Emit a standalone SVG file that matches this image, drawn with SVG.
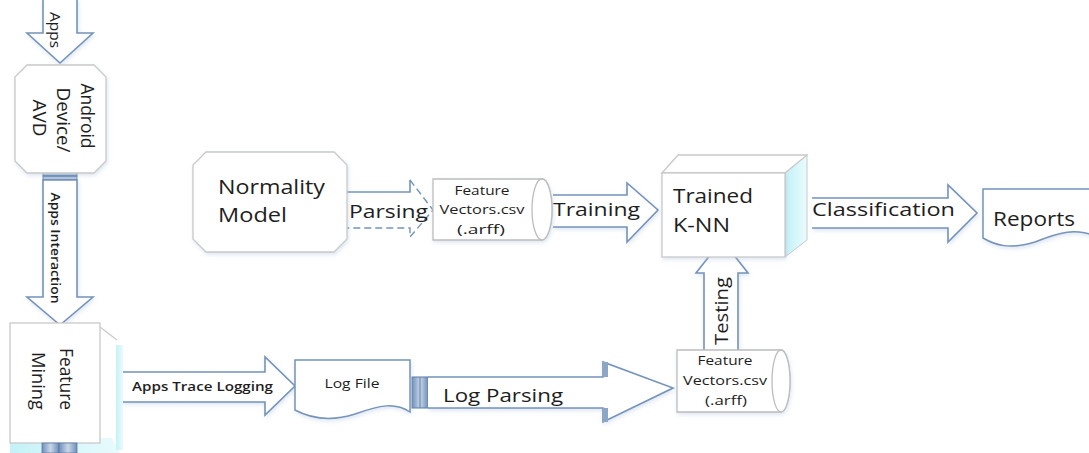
<svg xmlns="http://www.w3.org/2000/svg" width="1089" height="453" viewBox="0 0 1089 453">
<defs>
<style>
.bg{fill:#ffffff}
.arrow{fill:#ffffff;stroke:#7493bb;stroke-width:1.6;stroke-linejoin:miter}
.dash{fill:none;stroke:#7493bb;stroke-width:1.4;stroke-dasharray:7 4}
.box{fill:#ffffff;stroke:#c9c9c9;stroke-width:1.3}
.doc{fill:#ffffff;stroke:#7493bb;stroke-width:1.5}
.cyl{fill:#ffffff;stroke:#bdbdbd;stroke-width:1.3}
.side{fill:url(#cyan);stroke:#c9c9c9;stroke-width:1}
.bar{fill:url(#barg);stroke:#5b7aa5;stroke-width:1}
text{font-family:"Open Sans","Noto Sans","Liberation Sans",sans-serif;fill:#1e1e1e;font-weight:500}
.big{font-size:20px}
.mid{font-size:19px}
.sm{font-size:13px}
.lbl{font-size:13px;font-weight:600}
</style>
<linearGradient id="cyan" x1="0" y1="0" x2="1" y2="0">
<stop offset="0" stop-color="#c4f2f7"/>
<stop offset="1" stop-color="#e9fbfd"/>
</linearGradient>
<linearGradient id="barg" x1="0" y1="0" x2="1" y2="0">
<stop offset="0" stop-color="#6f8fba"/>
<stop offset="0.5" stop-color="#c9d7e8"/>
<stop offset="1" stop-color="#6f8fba"/>
</linearGradient>
<linearGradient id="barh" x1="0" y1="0" x2="0" y2="1">
<stop offset="0" stop-color="#6f8fba"/>
<stop offset="0.5" stop-color="#c9d7e8"/>
<stop offset="1" stop-color="#6f8fba"/>
</linearGradient>
<filter id="sh" x="-10%" y="-10%" width="130%" height="130%">
<feDropShadow dx="1" dy="2" stdDeviation="2" flood-color="#9fb8d8" flood-opacity="0.35"/>
</filter>
</defs>
<rect class="bg" x="0" y="0" width="1089" height="453"/>

<g id="connectors">
<g id="apps-arrow">
<path class="arrow" filter="url(#sh)" d="M43,-2 V33 H27 L60,63 L93,33 H77 V-2"/>
<text style="font-size:15px" transform="translate(50,30) rotate(90)" text-anchor="middle" textLength="36" lengthAdjust="spacingAndGlyphs">Apps</text>
</g>
<g id="apps-interaction">
<rect x="43" y="172" width="34" height="4" fill="url(#barh)" stroke="#5b7aa5" stroke-width="0.8"/>
<rect x="43" y="176" width="34" height="4" fill="url(#barh)" stroke="#5b7aa5" stroke-width="0.8"/>
<path class="arrow" filter="url(#sh)" d="M43,180 V297 H27 L60,325 L93,297 H77 V180 Z"/>
<text class="lbl" style="font-size:12px" transform="translate(51,248) rotate(90)" text-anchor="middle" textLength="111" lengthAdjust="spacingAndGlyphs">Apps Interaction</text>
</g>
<g id="parsing">
<path class="arrow" style="stroke:none" d="M347,192 H410 V180 L433,210 L410,237 V228 H347 Z"/>
<path fill="none" stroke="#7493bb" stroke-width="1.6" d="M347,192 H410 V180"/>
<path class="dash" d="M410,180 L433,210 L410,237 V228 H347"/>
<text class="mid" x="349" y="218" textLength="79" lengthAdjust="spacingAndGlyphs">Parsing</text>
</g>
<g id="training">
<path class="arrow" filter="url(#sh)" d="M553,195 H627 V183 L658,210 L627,242 V227 H553"/>
<text class="mid" x="553" y="216" textLength="87" lengthAdjust="spacingAndGlyphs">Training</text>
</g>
<g id="testing">
<path class="arrow" filter="url(#sh)" d="M704,350 V273 H696 L722,240 L748,273 H738 V350"/>
<text class="mid" transform="translate(728,311) rotate(-90)" text-anchor="middle" textLength="68" lengthAdjust="spacingAndGlyphs">Testing</text>
</g>
<g id="classification">
<rect class="bar" x="793" y="197" width="12" height="30"/>
<line x1="799" y1="197" x2="799" y2="227" stroke="#5b7aa5" stroke-width="1"/>
<path class="arrow" filter="url(#sh)" d="M812,198 H948 V185 L977,213 L948,242 V228 H812"/>
<text class="mid" x="812" y="216" textLength="143" lengthAdjust="spacingAndGlyphs">Classification</text>
</g>
<g id="apps-trace-logging">
<path class="arrow" filter="url(#sh)" d="M122,372 H265 V357 L295,386 L265,415 V402 H122 Z"/>
<rect x="118" y="372" width="4" height="30" fill="url(#barg)" stroke="#5b7aa5" stroke-width="0.8"/>
<text class="lbl" x="132" y="391" textLength="141" lengthAdjust="spacingAndGlyphs">Apps Trace Logging</text>
</g>
<g id="log-parsing">
<rect class="bar" x="412" y="377" width="16" height="31"/>
<line x1="420" y1="377" x2="420" y2="408" stroke="#5b7aa5" stroke-width="1"/>
<path class="arrow" filter="url(#sh)" d="M428,377 H603 V362 L673,388 L603,422 V408 H428"/>
<rect x="603" y="362" width="5" height="15" fill="#8ea6c6"/>
<rect x="603" y="408" width="5" height="14" fill="#8ea6c6"/>
<text class="mid" x="443" y="402" textLength="120" lengthAdjust="spacingAndGlyphs">Log Parsing</text>
</g>
</g>

<g id="android-device">
<path class="box" filter="url(#sh)" d="M27,65 H94 L106,77 V161 L94,173 H27 L15,161 V77 Z"/>
<text style="font-size:18px" transform="translate(81,116) rotate(90)" text-anchor="middle" textLength="65" lengthAdjust="spacingAndGlyphs">Android</text>
<text style="font-size:18px" transform="translate(57,120) rotate(90)" text-anchor="middle" textLength="65" lengthAdjust="spacingAndGlyphs">Device/</text>
<text style="font-size:18px" transform="translate(33,118) rotate(90)" text-anchor="middle" textLength="37" lengthAdjust="spacingAndGlyphs">AVD</text>
</g>

<g id="feature-mining">
<polygon points="10,438 112,438 120,453 10,453" fill="url(#cyan)"/>
<rect x="116" y="345" width="7" height="105" fill="url(#cyan)"/>
<rect class="box" x="10" y="323" width="90" height="120"/>
<line x1="100" y1="327" x2="117" y2="340" stroke="#c9c9c9" stroke-width="1.2"/>
<rect x="42" y="443" width="17" height="10" fill="url(#barg)" stroke="#5b7aa5" stroke-width="0.8"/>
<rect x="59" y="443" width="18" height="10" fill="url(#barg)" stroke="#5b7aa5" stroke-width="0.8"/>
<text style="font-size:18px" transform="translate(60,379) rotate(90)" text-anchor="middle" textLength="62" lengthAdjust="spacingAndGlyphs">Feature</text>
<text style="font-size:18px" transform="translate(32,381) rotate(90)" text-anchor="middle" textLength="58" lengthAdjust="spacingAndGlyphs">Mining</text>
</g>

<g id="normality-model">
<path class="box" filter="url(#sh)" d="M206,152 H334 L347,165 V239 L334,252 H206 L193,239 V165 Z"/>
<text class="big" x="218" y="194" textLength="107" lengthAdjust="spacingAndGlyphs">Normality</text>
<text class="big" x="218" y="222" textLength="69" lengthAdjust="spacingAndGlyphs">Model</text>
</g>

<g id="feature-vectors-top">
<path class="cyl" filter="url(#sh)" d="M433,179 H542 A10,30.5 0 0 1 542,240 H433 Z"/>
<ellipse class="cyl" cx="542" cy="209.5" rx="10" ry="30.5"/>
<text class="sm" x="482" y="195" text-anchor="middle" textLength="55" lengthAdjust="spacingAndGlyphs">Feature</text>
<text class="sm" x="482" y="214" text-anchor="middle" textLength="85" lengthAdjust="spacingAndGlyphs">Vectors.csv</text>
<text class="sm" x="481" y="234" text-anchor="middle" textLength="48" lengthAdjust="spacingAndGlyphs">(.arff)</text>
</g>

<g id="trained-knn">
<polygon class="side" points="785,173 807,155 807,240 785,257"/>
<polygon class="box" points="662,173 678,155 807,155 785,173"/>
<rect class="box" filter="url(#sh)" x="662" y="173" width="123" height="84"/>
<text class="big" x="673" y="203" textLength="80" lengthAdjust="spacingAndGlyphs">Trained</text>
<text class="big" x="673" y="232" textLength="57" lengthAdjust="spacingAndGlyphs">K-NN</text>
</g>

<g id="reports">
<path class="doc" filter="url(#sh)" d="M983,189 H1095 V236 C1075,228 1060,232 1035,242 C1010,250 995,245 983,238 Z"/>
<text class="big" x="993" y="226" textLength="82" lengthAdjust="spacingAndGlyphs">Reports</text>
</g>

<g id="log-file">
<path class="doc" filter="url(#sh)" d="M295,360 H410 V412 C395,402 380,405 355,414 C330,422 310,418 295,410 Z"/>
<text style="font-size:13px" x="352" y="388" text-anchor="middle" textLength="55" lengthAdjust="spacingAndGlyphs">Log File</text>
</g>

<g id="feature-vectors-bottom">
<path class="cyl" filter="url(#sh)" d="M677,350 H781 A9,31 0 0 1 781,412 H677 Z"/>
<ellipse class="cyl" cx="781" cy="381" rx="9" ry="31"/>
<text class="sm" x="725" y="365" text-anchor="middle" textLength="55" lengthAdjust="spacingAndGlyphs">Feature</text>
<text class="sm" x="725" y="385" text-anchor="middle" textLength="84" lengthAdjust="spacingAndGlyphs">Vectors.csv</text>
<text class="sm" x="726" y="405" text-anchor="middle" textLength="42" lengthAdjust="spacingAndGlyphs">(.arff)</text>
</g>
</svg>
